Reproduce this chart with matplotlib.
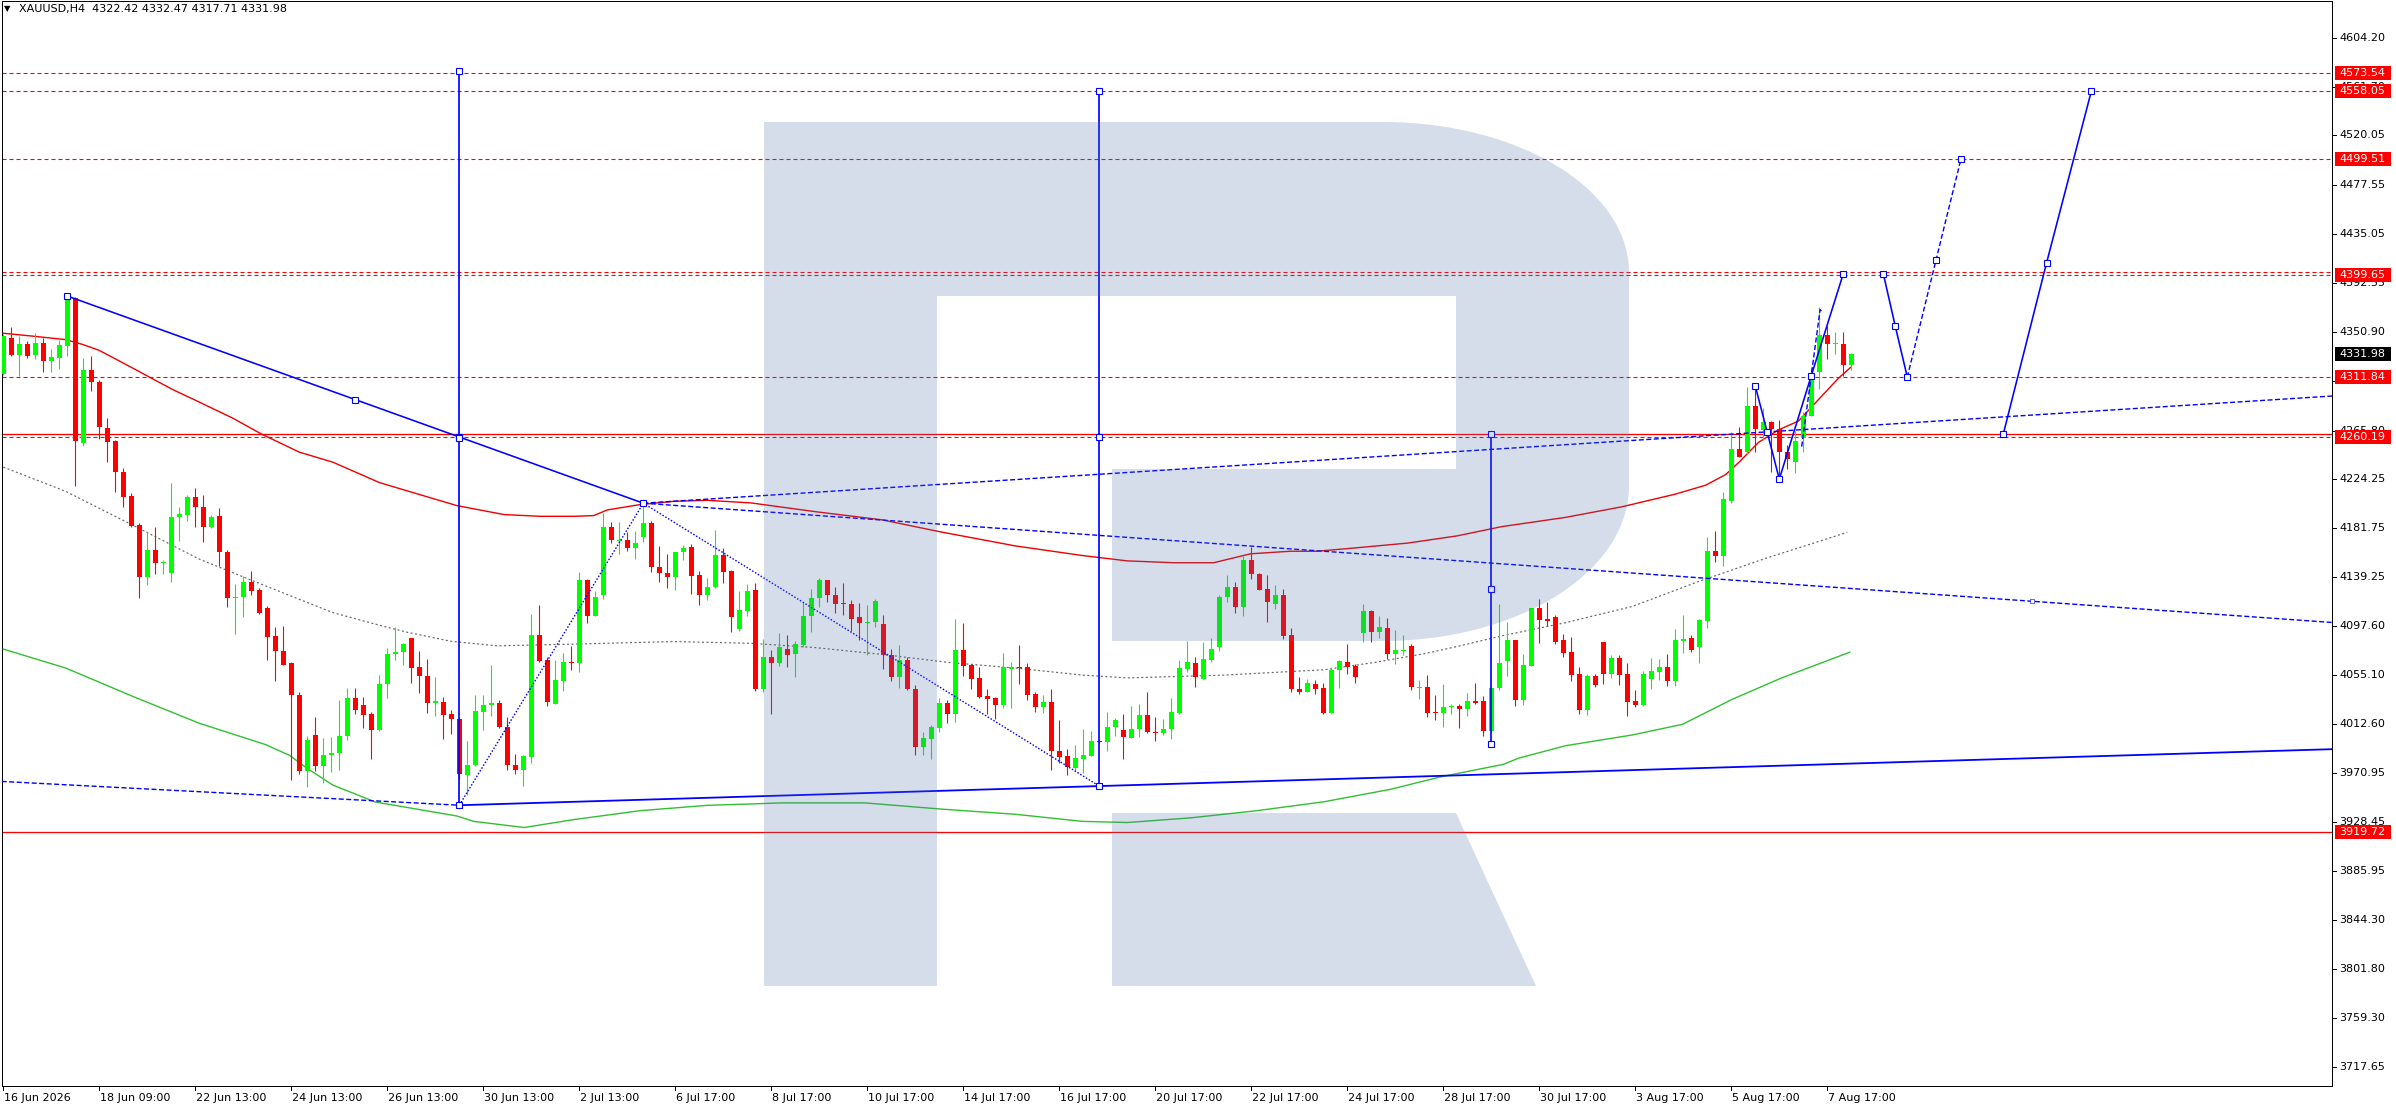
import matplotlib
matplotlib.use("Agg")
import matplotlib.pyplot as plt
from matplotlib.patches import Rectangle, Polygon
import numpy as np

plt.rcParams['font.family'] = ['DejaVu Sans']
plt.rcParams['lines.scale_dashes'] = False

# ---------------- data ----------------
symbol_header = "XAUUSD,H4  4322.42 4332.47 4317.71 4331.98"

opens = [4314.9, 4345.6, 4331.1, 4340.4, 4331.1, 4341.3, 4325.9, 4328.7, 4338.8, 4380.0,
         4255.2, 4317.9, 4307.5, 4268.1, 4256.8, 4230.0, 4209.4, 4184.8, 4139.6, 4163.0,
         4151.3, 4142.7, 4191.3, 4193.4, 4208.2, 4199.9, 4182.7, 4192.2, 4161.2, 4121.8,
         4122.4, 4135.3, 4128.6, 4112.6, 4089.2, 4076.0, 4065.2, 4038.2, 3972.4, 4003.8,
         3976.7, 3985.9, 3987.8, 4002.5, 4035.1, 4029.0, 4021.3, 4007.5, 4047.4, 4072.9,
         4075.1, 4087.4, 4061.9, 4054.5, 4031.4, 4032.0, 4021.3, 4017.6, 3968.7, 3977.3,
         4023.7, 4029.0, 4031.4, 4010.5, 3977.9, 3973.6, 3984.4, 4089.8, 4068.3, 4030.5,
         4049.6, 4066.5, 4065.2, 4137.2, 4106.4, 4124.3, 4182.7, 4170.4, 4171.3, 4164.2,
         4174.4, 4186.4, 4148.2, 4143.3, 4139.6, 4161.2, 4165.5, 4141.2, 4123.7, 4131.0,
         4158.7, 4144.9, 4095.1, 4110.4, 4128.0, 4042.8, 4071.1, 4065.2, 4077.2, 4072.9,
         4081.2, 4105.8, 4121.2, 4136.6, 4124.3, 4117.5, 4116.6, 4104.9, 4099.7, 4100.6,
         4098.7, 4072.6, 4053.6, 4068.3, 4043.4, 3993.0, 4000.1, 4009.9, 4031.4, 4021.3,
         4076.9, 4063.4, 4053.0, 4037.3, 4035.1, 4029.6, 4060.6, 4062.5, 4061.9, 4039.1,
         4027.4, 4032.0, 3989.9, 3985.0, 3974.9, 3982.9, 3985.3, 3998.2, 3997.6, 4010.5,
         4008.1, 4001.3, 4008.4, 4020.7, 4006.5, 4005.0, 4008.4, 4022.8, 4060.6, 4065.9,
         4052.0, 4068.3, 4079.1, 4122.1, 4131.0, 4114.1, 4154.4, 4142.1, 4129.5, 4116.6,
         4124.3, 4089.8, 4043.1, 4040.7, 4047.4, 4044.3, 4022.8, 4059.1, 4066.8, 4062.8,
         4091.1, 4110.4, 4092.6, 4096.0, 4073.5, 4076.0, 4080.3, 4044.3, 4045.0, 4023.4,
         4022.2, 4027.4, 4028.4, 4025.9, 4032.7, 4032.7, 4006.8, 4043.7, 4067.1, 4085.0,
         4033.6, 4062.8, 4112.6, 4103.4, 4104.9, 4085.0, 4074.8, 4055.8, 4025.0, 4054.2,
         4083.4, 4056.4, 4069.6, 4055.8, 4032.7, 4029.6, 4051.8, 4058.2, 4062.5, 4049.6,
         4084.3, 4087.1, 4079.4, 4101.9, 4162.4, 4157.8, 4205.5, 4250.3, 4247.3, 4287.2,
         4266.3, 4273.4, 4267.2, 4247.3, 4238.7, 4259.3, 4278.6, 4316.1, 4348.4, 4340.4,
         4340.7, 4322.42]
highs = [4348.7, 4354.8, 4347.1, 4342.5, 4349.6, 4345.6, 4335.8, 4344.1, 4382.5, 4380.6,
         4328.7, 4329.9, 4309.3, 4276.7, 4257.7, 4233.4, 4211.9, 4186.0, 4178.1, 4182.7,
         4154.4, 4220.5, 4199.9, 4210.3, 4215.9, 4210.3, 4193.4, 4198.7, 4163.0, 4133.5,
         4140.9, 4144.9, 4130.4, 4115.0, 4096.6, 4097.5, 4066.5, 4040.4, 4002.8, 4018.8,
         4001.3, 4001.9, 4033.9, 4044.3, 4044.3, 4036.0, 4023.7, 4054.8, 4078.2, 4096.6,
         4082.8, 4087.4, 4076.0, 4068.9, 4053.6, 4036.0, 4025.0, 4018.0, 3998.2, 4038.2,
         4037.6, 4063.4, 4033.9, 4018.8, 3987.5, 3986.5, 4108.0, 4115.7, 4070.5, 4068.3,
         4074.5, 4080.3, 4144.2, 4138.1, 4127.3, 4195.0, 4187.0, 4187.0, 4178.4, 4179.6,
         4202.9, 4187.6, 4166.4, 4159.6, 4161.2, 4167.3, 4167.9, 4144.9, 4139.0, 4180.2,
         4164.2, 4145.8, 4127.3, 4133.5, 4134.1, 4086.5, 4076.6, 4091.4, 4089.8, 4084.3,
         4118.1, 4129.5, 4138.4, 4136.6, 4131.0, 4134.4, 4119.7, 4117.5, 4115.7, 4120.3,
         4107.0, 4077.2, 4081.2, 4070.5, 4046.5, 4005.9, 4012.1, 4035.1, 4033.6, 4103.7,
         4100.3, 4064.9, 4062.2, 4042.8, 4036.0, 4074.5, 4066.8, 4081.2, 4065.9, 4040.4,
         4038.2, 4043.4, 4016.7, 3991.2, 3995.2, 4009.0, 4006.8, 3998.8, 4023.4, 4018.2,
         4021.9, 4028.4, 4030.5, 4040.4, 4019.1, 4017.6, 4035.7, 4068.3, 4084.3, 4070.5,
         4083.4, 4087.4, 4124.3, 4141.2, 4135.0, 4158.1, 4165.8, 4143.3, 4141.2, 4132.9,
         4128.9, 4095.7, 4053.6, 4052.0, 4050.5, 4048.0, 4061.9, 4068.3, 4082.1, 4064.9,
         4116.6, 4111.4, 4105.8, 4104.3, 4094.1, 4089.5, 4081.8, 4050.5, 4055.1, 4038.2,
         4047.4, 4030.5, 4030.5, 4039.7, 4048.7, 4036.7, 4044.3, 4116.6, 4100.9, 4085.0,
         4073.6, 4112.6, 4120.3, 4117.9, 4106.5, 4090.2, 4088.0, 4061.9, 4055.8, 4055.8,
         4083.4, 4072.7, 4072.0, 4065.6, 4041.9, 4058.8, 4069.6, 4068.7, 4073.3, 4094.8,
         4106.5, 4089.6, 4103.4, 4174.1, 4179.6, 4213.1, 4264.8, 4268.8, 4303.2, 4304.1,
         4284.8, 4274.0, 4274.9, 4253.1, 4265.7, 4281.7, 4320.7, 4371.8, 4355.5, 4350.9,
         4350.9, 4332.47]
lows = [4313.3, 4330.2, 4312.4, 4328.7, 4327.8, 4316.4, 4316.4, 4319.2, 4330.2, 4218.3,
        4252.8, 4300.1, 4258.9, 4238.9, 4213.1, 4200.2, 4182.7, 4121.2, 4132.3, 4142.1,
        4141.8, 4135.6, 4170.4, 4188.2, 4182.7, 4169.8, 4182.1, 4149.5, 4113.8, 4090.5,
        4105.2, 4124.3, 4107.4, 4067.7, 4049.9, 4063.4, 3964.4, 3970.0, 3958.9, 3972.4,
        3962.3, 3971.8, 3973.6, 3998.8, 4021.3, 4009.3, 3982.9, 4006.8, 4035.1, 4068.0,
        4063.4, 4048.0, 4039.4, 4022.8, 4019.8, 4000.1, 4004.4, 3966.0, 3952.1, 3976.7,
        4007.5, 4019.8, 4009.9, 3973.6, 3969.9, 3959.5, 3979.8, 4066.5, 4028.4, 4030.5,
        4041.3, 4059.7, 4057.9, 4099.7, 4105.8, 4120.6, 4168.8, 4159.6, 4162.4, 4155.0,
        4169.5, 4144.2, 4135.6, 4130.4, 4128.0, 4154.4, 4124.9, 4115.7, 4119.7, 4130.4,
        4134.7, 4092.0, 4092.9, 4105.8, 4041.3, 4040.7, 4021.3, 4062.8, 4062.2, 4053.6,
        4079.7, 4092.6, 4113.5, 4118.1, 4108.3, 4107.1, 4093.5, 4085.5, 4072.0, 4096.6,
        4060.6, 4049.9, 4043.7, 4041.9, 3985.9, 3985.9, 3982.9, 4005.9, 4013.6, 4015.1,
        4054.2, 4042.8, 4035.1, 4021.3, 4017.3, 4026.5, 4026.5, 4047.4, 4033.6, 4023.7,
        4022.2, 3973.0, 3979.8, 3969.0, 3972.1, 3970.6, 3985.0, 3996.7, 3989.6, 4002.5,
        3982.9, 4000.7, 4001.9, 4005.3, 3998.2, 4003.5, 3999.8, 4021.9, 4058.2, 4045.0,
        4051.4, 4066.8, 4076.0, 4118.1, 4108.9, 4105.8, 4138.1, 4128.0, 4100.6, 4112.0,
        4085.8, 4040.4, 4039.1, 4040.4, 4039.1, 4021.3, 4022.2, 4044.3, 4056.0, 4048.6,
        4083.4, 4083.7, 4086.8, 4068.9, 4064.3, 4072.0, 4041.9, 4034.2, 4018.8, 4016.0,
        4010.5, 4021.3, 4009.6, 4019.8, 4030.5, 4002.5, 4005.9, 4041.9, 4054.2, 4028.7,
        4029.6, 4062.8, 4082.8, 4097.3, 4081.9, 4071.1, 4049.6, 4021.3, 4020.4, 4045.0,
        4047.1, 4052.7, 4046.5, 4019.5, 4027.2, 4028.7, 4042.8, 4051.2, 4045.9, 4045.9,
        4074.2, 4074.8, 4065.6, 4095.7, 4152.6, 4149.5, 4203.3, 4243.3, 4245.4, 4247.0,
        4258.0, 4230.4, 4224.8, 4232.5, 4228.8, 4247.3, 4278.0, 4301.7, 4327.2, 4331.8,
        4313.1, 4317.71]
closes = [4347.1, 4331.1, 4340.4, 4330.2, 4341.3, 4325.9, 4329.0, 4339.4, 4381.6, 4257.1,
          4317.9, 4307.5, 4268.7, 4256.1, 4229.7, 4208.8, 4183.6, 4139.6, 4163.0, 4151.3,
          4152.5, 4191.3, 4194.0, 4208.2, 4199.6, 4182.7, 4191.6, 4161.2, 4121.2, 4122.7,
          4135.3, 4127.3, 4108.9, 4088.3, 4075.7, 4064.0, 4037.6, 3972.4, 3999.5, 3976.7,
          3986.5, 3988.4, 4002.8, 4035.1, 4025.0, 4020.4, 4007.5, 4047.4, 4073.5, 4075.1,
          4081.8, 4061.2, 4054.2, 4030.8, 4033.0, 4020.4, 4017.3, 3969.9, 3977.9, 4024.4,
          4029.6, 4031.4, 4010.5, 3977.3, 3973.6, 3985.0, 4089.8, 4067.4, 4032.0, 4050.5,
          4066.5, 4065.2, 4137.2, 4106.4, 4122.1, 4182.7, 4171.3, 4171.3, 4164.2, 4168.8,
          4186.4, 4148.2, 4142.7, 4139.6, 4161.2, 4164.8, 4140.6, 4123.7, 4131.0, 4158.7,
          4144.2, 4105.2, 4111.4, 4127.3, 4042.8, 4071.1, 4065.2, 4079.7, 4072.6, 4082.1,
          4106.4, 4121.8, 4136.6, 4123.7, 4116.6, 4116.0, 4103.7, 4099.7, 4101.2, 4119.0,
          4072.0, 4053.6, 4068.3, 4042.8, 3993.0, 4001.3, 4010.5, 4031.4, 4021.3, 4076.9,
          4062.8, 4051.4, 4036.0, 4034.2, 4029.6, 4061.9, 4062.2, 4061.2, 4038.2, 4027.4,
          4032.0, 3989.9, 3984.4, 3976.1, 3983.5, 3985.9, 3998.2, 3997.3, 4010.5, 4016.7,
          4001.9, 4009.0, 4020.7, 4005.9, 4005.3, 4009.0, 4023.4, 4061.2, 4066.5, 4053.6,
          4068.9, 4077.5, 4122.4, 4131.0, 4114.1, 4154.4, 4141.8, 4128.6, 4117.8, 4124.3,
          4088.9, 4042.8, 4040.7, 4048.3, 4043.4, 4022.8, 4059.7, 4067.4, 4062.2, 4053.6,
          4110.4, 4092.6, 4096.6, 4073.5, 4076.6, 4076.6, 4045.0, 4045.0, 4022.8, 4022.2,
          4027.4, 4028.4, 4025.9, 4032.7, 4031.4, 4006.8, 4044.3, 4065.9, 4085.0, 4033.6,
          4063.4, 4112.6, 4102.8, 4101.6, 4084.0, 4074.2, 4055.1, 4025.0, 4054.2, 4046.5,
          4056.4, 4069.6, 4055.1, 4032.1, 4029.6, 4055.8, 4058.8, 4062.5, 4049.6, 4085.0,
          4086.5, 4076.4, 4102.5, 4162.4, 4157.8, 4206.4, 4250.3, 4243.3, 4287.2, 4266.9,
          4273.4, 4267.2, 4247.3, 4241.1, 4257.1, 4278.6, 4314.9, 4348.4, 4340.1, 4341.6,
          4322.3, 4331.98]

# moving averages (bar index, price)
ma_red_x = [0, 3.7, 7.8, 9.9, 12, 14.1, 16.2, 18.7, 21.2, 24.5, 28.7, 32.4, 37, 41.2, 47, 50.5,
            56.7, 62.6, 67.1, 71.3, 73.8, 75.5, 79.6, 83.8, 88, 93.5, 101.5, 109.9, 117, 126.5,
            134.9, 140.5, 146.3, 151.3, 155.9, 160.9, 164.2, 169.2, 175.5, 181.7, 187.3, 195.3,
            202.4, 209, 212.8, 215.3, 217, 219.4, 221.9, 224.4, 226.9, 229.4, 230.9]
ma_red_y = [4349.6, 4347.1, 4344.1, 4340.0, 4334.8, 4327.2, 4319.5, 4310.2, 4301.0, 4290.3,
            4276.4, 4262.3, 4247.2, 4238.5, 4221.0, 4213.8, 4201.1, 4193.4, 4191.9, 4191.9,
            4192.5, 4197.4, 4202.0, 4204.8, 4205.7, 4203.4, 4195.9, 4188.8, 4178.7, 4166.4,
            4158.1, 4153.5, 4151.9, 4151.9, 4159.6, 4161.8, 4161.8, 4164.8, 4168.8, 4175.0,
            4183.0, 4191.0, 4200.2, 4211.0, 4218.7, 4227.9, 4238.7, 4255.6, 4266.3, 4274.0,
            4292.5, 4310.9, 4320.1]
ma_grey_x = [0, 7.8, 16.2, 24.5, 32.8, 41.2, 47, 50.5, 55.9, 61.7, 71.3, 83.8, 93.5, 101.5,
             109.9, 118.3, 126.5, 134.9, 140.5, 152.6, 165.1, 171.3, 177.6, 181.7, 187.3,
             195.3, 203.6, 211.9, 220.3, 230.5]
ma_grey_y = [4234.3, 4213.4, 4184.2, 4155.0, 4131.9, 4108.9, 4098.1, 4092.0, 4084.3, 4080.3,
             4081.8, 4084.0, 4082.5, 4078.8, 4072.9, 4065.9, 4061.2, 4055.1, 4052.7, 4055.1,
             4059.7, 4065.9, 4073.5, 4079.7, 4088.9, 4100.3, 4114.2, 4135.7, 4155.7, 4178.1]
ma_green_x = [0, 7.8, 16.2, 24.5, 32.8, 35.8, 37.8, 41.2, 46.5, 56.7, 58.8, 65.1, 71.3, 79.6,
              88, 93.5, 97.3, 107.7, 117, 126.5, 134.9, 140.5, 148.4, 156.7, 165.1, 173.4,
              179.7, 187.5, 189.4, 195.3, 203.6, 209.9, 216.1, 222.3, 230.8]
ma_green_y = [4077.5, 4061.2, 4036.7, 4013.6, 3995.2, 3985.9, 3975.6, 3960.3, 3945.8, 3933.7,
              3929.1, 3923.8, 3930.6, 3938.3, 3942.9, 3944.1, 3945.0, 3945.0, 3939.8, 3935.2,
              3929.1, 3928.1, 3932.1, 3938.3, 3946.0, 3956.7, 3967.5, 3978.2, 3983.5, 3994.3,
              4003.5, 4012.7, 4034.2, 4052.7, 4074.8]

# horizontal levels
levels_dashed = [4573.54, 4558.05, 4499.51, 4402.10, 4399.65, 4311.84, 4260.19]
levels_solid = [4262.80, 3919.72]
level_labels = [4573.54, 4558.05, 4499.51, 4399.65, 4311.84, 4260.19, 3919.72]
last_price = 4331.98

# analysis drawings (bar index, price anchors)
trend_solid_x = [8, 80]
trend_solid_y = [4381.7, 4203.2]
trend_marks_x = [8, 44, 57, 80]
zigzag_dot_x = [57, 80, 137]
zigzag_dot_y = [3943.0, 4203.2, 3959.5]
lower_dash_x = [-0.2, 57]
lower_dash_y = [3963.5, 3943.0]
lower_ray_x = [57, 137]
lower_ray_y = [3943.0, 3959.5]
upper_ray1_x = [80, 187]
upper_ray1_y = [4203.2, 4250.0]
upper_ray2_x = [80, 253.6]
upper_ray2_y = [4203.2, 4118.7]
verticals_x = [57, 137, 186]
verticals_top = [4575.5, 4558.05, 4262.8]
verticals_mid = [4259.1, 4260.2, 4129.5]
verticals_bot = [3943.0, 3959.5, 3995.8]
wave1_x = [219, 220.5, 222, 226, 230]
wave1_y = [4304.1, 4264.2, 4223.9, 4313.1, 4400.9]
wave_dash_x = [224.8, 227.1, 227.4]
wave_dash_y = [4252.0, 4370.0, 4368.0]
wave2_x = [235, 236.5, 238]
wave2_y = [4400.9, 4355.6, 4311.84]
wave2d_x = [238, 241.6, 244.7]
wave2d_y = [4311.84, 4413.0, 4499.51]
wave3_x = [250, 255.4, 261]
wave3_y = [4262.8, 4410.0, 4558.05]

price_ticks = [4604.20, 4561.70, 4520.05, 4477.55, 4435.05, 4392.55, 4350.90, 4308.40, 4265.80,
               4224.25, 4181.75, 4139.25, 4097.60, 4055.10, 4012.60, 3970.95, 3928.45, 3885.95,
               3844.30, 3801.80, 3759.30, 3717.65]
time_labels = ["16 Jun 2026", "18 Jun 09:00", "22 Jun 13:00", "24 Jun 13:00", "26 Jun 13:00",
               "30 Jun 13:00", "2 Jul 13:00", "6 Jul 17:00", "8 Jul 17:00", "10 Jul 17:00",
               "14 Jul 17:00", "16 Jul 17:00", "20 Jul 17:00", "22 Jul 17:00", "24 Jul 17:00",
               "28 Jul 17:00", "30 Jul 17:00", "3 Aug 17:00", "5 Aug 17:00", "7 Aug 17:00"]
time_label_step = 12

# ---------------- layout ----------------
W, H, DPI = 2396, 1110, 100
PT = 72.0 / DPI          # points per pixel
AX_L, AX_R, AX_T, AX_B = 2, 2332, 1, 1086
BAR_PX, BAR0_PX = 8.0, 3.3
P_TOP, K = 4636.7, 0.8615   # price at pixel row 0, price per pixel

def price_at(py):
    return P_TOP - K * py

def py_of(price):
    return (P_TOP - price) / K

def px_of(bar):
    return BAR0_PX + BAR_PX * bar

fig = plt.figure(figsize=(W / DPI, H / DPI), dpi=DPI, facecolor='white')
ax = fig.add_axes([AX_L / W, 1 - AX_B / H, (AX_R - AX_L) / W, (AX_B - AX_T) / H])
xl = ((AX_L - BAR0_PX) / BAR_PX, (AX_R - BAR0_PX) / BAR_PX)
ax.set_xlim(*xl)
ax.set_ylim(price_at(AX_B), price_at(AX_T))
ax.set_xticks([]); ax.set_yticks([])
for s in ax.spines.values():
    s.set_color('black'); s.set_linewidth(1.0 * PT)

RED, GREEN, BLUE = '#ff0000', '#00ff00', '#0000ff'
DASH = (0, (4 * PT, 3 * PT))
BDASH = (0, (5 * PT, 2.5 * PT))
BDOT = (0, (1.5 * PT, 1.8 * PT))
GDOT = (0, (2 * PT, 2.5 * PT))

# horizontal levels
for lv in levels_dashed:
    ax.axhline(lv, color=RED, lw=1.1 * PT, linestyle=DASH, zorder=2)
for lv in levels_solid:
    ax.axhline(lv, color=RED, lw=1.3 * PT, zorder=2)

# moving averages
ax.plot(ma_red_x, ma_red_y, color='#f00000', lw=1.4 * PT, zorder=3)
ax.plot(ma_grey_x, ma_grey_y, color='#666666', lw=1.2 * PT, linestyle=GDOT, zorder=3)
ax.plot(ma_green_x, ma_green_y, color='#32c032', lw=1.4 * PT, zorder=3)

# candles
n = len(opens)
xs = np.arange(n)
o = np.array(opens); h = np.array(highs); l = np.array(lows); c = np.array(closes)
up = c >= o
cols = np.where(up, GREEN, RED)
ax.vlines(xs, l, h, colors=cols, lw=1.1 * PT, zorder=4)
body_lo = np.minimum(o, c)
body_h = np.maximum(np.abs(c - o), 1.0 * K)
ax.bar(xs, body_h, bottom=body_lo, width=0.62, color=cols, linewidth=0, zorder=5)

# analysis drawings
mk = dict(marker='s', ms=4.2, mfc='white', mec=BLUE, mew=1.1 * PT, linestyle='none', zorder=8)

ax.plot(trend_solid_x, trend_solid_y, color=BLUE, lw=1.6 * PT, zorder=6)
slope = (trend_solid_y[1] - trend_solid_y[0]) / (trend_solid_x[1] - trend_solid_x[0])
ax.plot(trend_marks_x, [trend_solid_y[0] + slope * (x - trend_solid_x[0]) for x in trend_marks_x], **mk)

ax.plot(zigzag_dot_x, zigzag_dot_y, color=BLUE, lw=1.4 * PT, linestyle=BDOT, zorder=6)
ax.plot(lower_dash_x, lower_dash_y, color=BLUE, lw=1.4 * PT, linestyle=BDASH, zorder=6)

def ray(xa, ya, **kw):
    s = (ya[1] - ya[0]) / (xa[1] - xa[0])
    xe = xl[1]
    ax.plot([xa[0], xe], [ya[0], ya[0] + s * (xe - xa[0])], **kw)

ray(lower_ray_x, lower_ray_y, color=BLUE, lw=1.8 * PT, zorder=6)
ray(upper_ray1_x, upper_ray1_y, color=BLUE, lw=1.4 * PT, linestyle=BDASH, zorder=6)
ray(upper_ray2_x, upper_ray2_y, color=BLUE, lw=1.4 * PT, linestyle=BDASH, zorder=6)
ax.plot([upper_ray2_x[1]], [upper_ray2_y[1]], marker='s', ms=2.5, mfc='white', mec=BLUE,
        mew=0.6 * PT, linestyle='none', zorder=8)

for vx, vt, vm, vb in zip(verticals_x, verticals_top, verticals_mid, verticals_bot):
    ax.plot([vx, vx], [vb, vt], color=BLUE, lw=1.7 * PT, zorder=6)
    ax.plot([vx, vx, vx], [vt, vm, vb], **mk)

ax.plot(wave1_x, wave1_y, color=BLUE, lw=1.6 * PT, zorder=7)
ax.plot(wave1_x, wave1_y, **mk)
ax.plot(wave_dash_x, wave_dash_y, color=BLUE, lw=1.4 * PT, linestyle=BDASH, zorder=7)
ax.plot(wave2_x, wave2_y, color=BLUE, lw=1.6 * PT, zorder=7)
ax.plot(wave2_x, wave2_y, **mk)
ax.plot(wave2d_x, wave2d_y, color=BLUE, lw=1.4 * PT, linestyle=BDASH, zorder=7)
ax.plot(wave2d_x[1:], wave2d_y[1:], **mk)
ax.plot(wave3_x, wave3_y, color=BLUE, lw=1.6 * PT, zorder=7)
ax.plot(wave3_x, wave3_y, **mk)

# ---------------- overlay in pixel coordinates ----------------
ov = fig.add_axes([0, 0, 1, 1])
ov.set_xlim(0, W); ov.set_ylim(H, 0)
ov.axis('off')
ov.patch.set_alpha(0)

# watermark logo (semi-transparent)
def ell(cx, cy, rx, ry, t0, t1, num=40):
    t = np.radians(np.linspace(t0, t1, num))
    return list(zip(cx + rx * np.cos(t), cy - ry * np.sin(t)))

logo = [(764, 122), (1383, 122)] + ell(1383, 272, 246, 150, 90, 0) + \
       [(1629, 486)] + ell(1383, 486, 246, 155, 0, -90) + \
       [(1112, 641), (1112, 469), (1456, 469), (1456, 296), (937, 296), (937, 986), (764, 986)]
leg = [(1112, 813), (1456, 813), (1536, 986), (1112, 986)]
for poly in (logo, leg):
    ov.add_patch(Polygon(poly, closed=True, facecolor='#4a6faa', edgecolor='none',
                         alpha=0.23, zorder=1))

# header
ov.text(4, 9, '\u25bc', fontsize=6, va='center', ha='left', color='black')
ov.text(19, 9, symbol_header, fontsize=8, va='center', ha='left', color='black')

# price axis
for p in price_ticks:
    y = py_of(p)
    ov.plot([AX_R, AX_R + 4], [y, y], color='black', lw=1 * PT)
    ov.text(AX_R + 7, y, f"{p:.2f}", fontsize=8, va='center', ha='left', color='black')

def price_box(p, fc):
    y = py_of(p)
    ov.add_patch(Rectangle((AX_R + 3, y - 7), 56, 14, facecolor=fc, edgecolor='none', zorder=5))
    ov.text(AX_R + 7, y, f"{p:.2f}", fontsize=8, va='center', ha='left', color='white', zorder=6)

for p in level_labels:
    price_box(p, '#ff0000')
price_box(last_price, '#000000')

# time axis
for k, lab in enumerate(time_labels):
    x = px_of(k * time_label_step)
    ov.plot([x, x], [AX_B, AX_B + 4], color='black', lw=1 * PT)
    ov.text(x + 1, AX_B + 12, lab, fontsize=8, va='center', ha='left', color='black')

fig.savefig('out.png', dpi=DPI, facecolor='white')
